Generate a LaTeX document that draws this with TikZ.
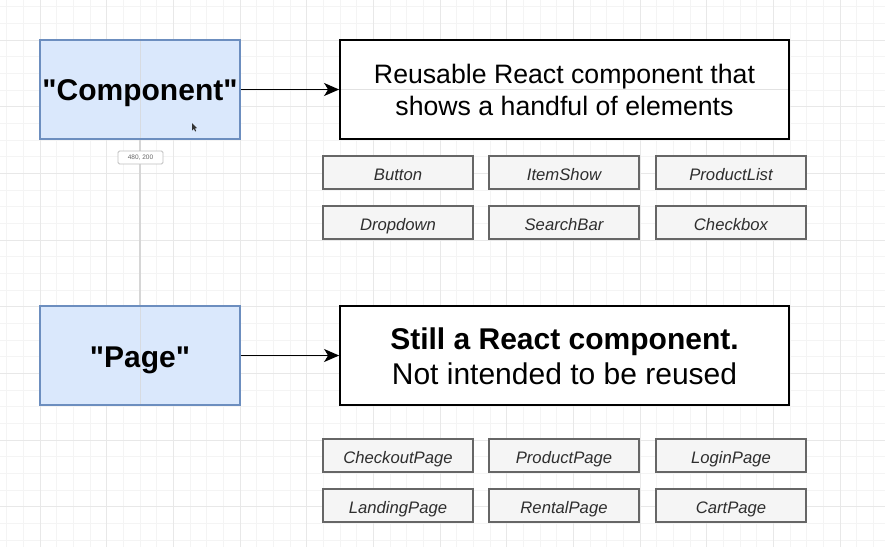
\documentclass[tikz,border=0pt]{standalone}
\usepackage{fontspec}
\newfontfamily\arialf{Liberation Sans}
\usetikzlibrary{arrows.meta}
\definecolor{minorgrid}{HTML}{F4F4F4}
\definecolor{majorgrid}{HTML}{E8E8E8}
\definecolor{guide}{HTML}{D6D6D6}
\definecolor{bluefill}{HTML}{DAE8FC}
\definecolor{blueline}{HTML}{6C8EBF}
\definecolor{grayfill}{HTML}{F5F5F5}
\definecolor{grayline}{HTML}{666666}
\tikzset{
  bluebox/.style={draw=blueline, fill=bluefill, line width=1.5pt, minimum width=200pt, minimum height=99pt, inner sep=0pt,
    font=\arialf\fontsize{30}{34}\selectfont\bfseries, text depth=0pt},
  descbox/.style={draw=black, fill=white, line width=1.8pt, minimum width=449pt, minimum height=99pt, inner sep=0pt},
  desctext/.style={inner sep=0pt, align=center},
  itembox/.style={draw=grayline, fill=grayfill, line width=1.8pt, minimum width=150pt, minimum height=33pt, inner sep=0pt,
    font=\arialf\fontsize{16.67}{20}\selectfont\itshape, text=black!82, text height=16.4pt, text depth=0pt},
  conn/.style={line width=1.3pt, -{Stealth[length=15pt,width=13pt,inset=4pt]}},
  tip/.style={draw=black!25, fill=white, rounded corners=1.5pt, line width=0.8pt, minimum width=45pt, minimum height=13pt, inner sep=0pt,
    font=\arialf\fontsize{6.5}{7}\selectfont, text=black!60}
}
\begin{document}
\begin{tikzpicture}[x=1pt,y=-1pt]
\useasboundingbox (0,0) rectangle (885,547);
\fill[white] (0,0) rectangle (885,547);
% grid
\foreach \i in {-2,...,51} {
  \draw[minorgrid, line width=0.8pt] ({40+16.6667*\i},0) -- ({40+16.6667*\i},547);
}
\foreach \j in {-2,...,31} {
  \draw[minorgrid, line width=0.8pt] (0,{40+16.6667*\j}) -- (885,{40+16.6667*\j});
}
\foreach \i in {0,4,...,48} {
  \draw[majorgrid, line width=1pt] ({40+16.6667*\i},0) -- ({40+16.6667*\i},547);
}
\foreach \j in {0,4,...,28} {
  \draw[majorgrid, line width=1pt] (0,{40+16.6667*\j}) -- (885,{40+16.6667*\j});
}
% vertical alignment guide
\draw[guide, line width=1.2pt] (140,139) -- (140,306);

% top section
\node[bluebox, text height=22pt] (comp) at (140,89.5) {\symbol{34}Component\symbol{34}};
\node[descbox] (compdesc) at (564.5,89.5) {};
\node[desctext, font=\arialf\fontsize{26.67}{32}\selectfont] (compdesctext) at (compdesc.center) {Reusable React component that\\shows a handful of elements};
\draw[conn] (comp.east) -- (compdesc.west);
% guides over boxes
\draw[guide, line width=0.8pt, opacity=0.7] (140,41) -- (140,138);
\draw[guide, line width=0.8pt, opacity=0.7] (341,89.5) -- (788,89.5);

\node[tip] (size) at (140.5,157.5) {480, 200};
% mouse cursor
\fill[black!80] (192,123) -- (192,130.5) -- (193.8,128.8) -- (195.2,131.5) -- (196.2,131) -- (194.8,128.3) -- (197.2,128.2) -- cycle;

\node[itembox] (button) at (398,172.5) {Button};
\node[itembox] (itemshow) at (564,172.5) {ItemShow};
\node[itembox] (productlist) at (731,172.5) {ProductList};
\node[itembox] (dropdown) at (398,222.5) {Dropdown};
\node[itembox] (searchbar) at (564,222.5) {SearchBar};
\node[itembox] (checkbox) at (731,222.5) {Checkbox};

% bottom section
\node[bluebox, text height=23.5pt] (page) at (140,355.5) {\symbol{34}Page\symbol{34}};
\draw[guide, line width=0.8pt, opacity=0.7] (140,307) -- (140,404);
\node[descbox] (pagedesc) at (564.5,355.5) {};
\node[desctext, font=\arialf\fontsize{30}{35}\selectfont, yshift=-1pt] (pagedesctext) at (pagedesc.center) {\textbf{Still a React component.}\\Not intended to be reused};
\draw[conn] (page.east) -- (pagedesc.west);

\node[itembox] (checkout) at (398,455.5) {CheckoutPage};
\node[itembox] (productpage) at (564,455.5) {ProductPage};
\node[itembox] (login) at (731,455.5) {LoginPage};
\node[itembox] (landing) at (398,505.5) {LandingPage};
\node[itembox] (rental) at (564,505.5) {RentalPage};
\node[itembox] (cart) at (731,505.5) {CartPage};
\end{tikzpicture}
\end{document}
